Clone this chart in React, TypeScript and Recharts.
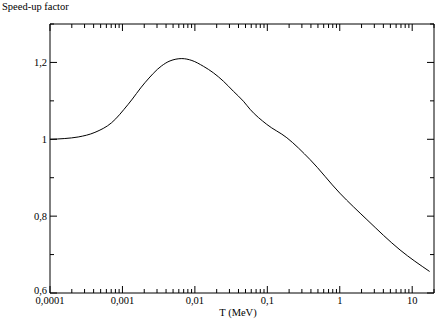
import React from 'react';
import { LineChart, Line, XAxis, YAxis, Label } from 'recharts';

// temperature (MeV) and speed-up factor
const temperatures = [
  0.0001, 0.00016, 0.000245, 0.000417, 0.000708, 0.0012, 0.00204, 0.00347, 0.00454, 0.0066,
  0.0091, 0.0131, 0.018, 0.0248, 0.034, 0.0468, 0.0578, 0.098, 0.186, 0.39, 1, 2.37, 6.8, 17.4,
];
const speedUp = [
  1.0, 1.002, 1.006, 1.018, 1.043, 1.091, 1.147, 1.191, 1.204, 1.21,
  1.205, 1.19, 1.173, 1.151, 1.125, 1.099, 1.078, 1.039, 1.004, 0.947, 0.86, 0.791, 0.712, 0.656,
];

const xDecades = [0.0001, 0.001, 0.01, 0.1, 1, 10];
const xMinorSteps = [2, 3, 4, 5, 6, 7, 8, 9];
const yTicks = [0.6, 0.7, 0.8, 0.9, 1, 1.1, 1.2, 1.3];
const yMajor = [0.6, 0.8, 1, 1.2];

const data = temperatures.map((t, i) => ({ t, f: speedUp[i] }));

const xTicks: number[] = [];
xDecades.forEach(d => {
  xTicks.push(d);
  xMinorSteps.forEach(m => {
    if (m * d <= 20) xTicks.push(m * d);
  });
});

const font = 'Liberation Serif, DejaVu Serif, Liberation Sans, Arial, sans-serif';
const fmt = (v: number) => String(v).replace('.', ',');
const isMajorX = (v: number) => xDecades.some(d => Math.abs(v - d) < d * 1e-6);
const isMajorY = (v: number) => yMajor.some(d => Math.abs(v - d) < 1e-6);

const BottomTick = (props: any) => {
  const { x, y, payload } = props;
  const major = isMajorX(payload.value);
  return (
    <g>
      <line x1={x} x2={x} y1={y} y2={y - (major ? 7 : 4)} stroke="#000" />
      {major && (
        <text x={x} y={y + 4} dy="0.71em" textAnchor="middle" fontFamily={font} fontSize={10.5} fill="#000">
          {fmt(payload.value)}
        </text>
      )}
    </g>
  );
};

const TopTick = (props: any) => {
  const { x, y, payload } = props;
  const major = isMajorX(payload.value);
  return <line x1={x} x2={x} y1={y} y2={y + (major ? 7 : 4)} stroke="#000" />;
};

const LeftTick = (props: any) => {
  const { x, y, payload } = props;
  const v = payload.value;
  const major = isMajorY(v);
  // the lowest label sits a little higher so it clears the first x label
  const shift = v === yMajor[0] ? -3 : 0;
  return (
    <g>
      <line x1={x} x2={x + (major ? 7 : 4)} y1={y} y2={y} stroke="#000" />
      {major && (
        <text x={x - 3} y={y + shift} dy="0.35em" textAnchor="end" fontFamily={font} fontSize={10.5} fill="#000">
          {fmt(v)}
        </text>
      )}
    </g>
  );
};

const RightTick = (props: any) => {
  const { x, y, payload } = props;
  const major = isMajorY(payload.value);
  return <line x1={x} x2={x - (major ? 7 : 4)} y1={y} y2={y} stroke="#000" />;
};

export default function App() {
  return (
    <div style={{ position: 'absolute', left: 0, top: 0, width: 436, height: 320, background: '#fff' }}>
      <div
        style={{
          position: 'absolute',
          left: 2,
          top: 0,
          fontFamily: font,
          fontSize: 10.5,
          color: '#000',
          lineHeight: '13px',
        }}
      >
        Speed-up factor
      </div>
      <LineChart width={436} height={320} data={data} margin={{ top: 0, right: 0, bottom: 0, left: 0 }}>
        <XAxis
          dataKey="t"
          type="number"
          scale="log"
          domain={[0.0001, 20]}
          ticks={xTicks}
          allowDataOverflow
          height={27}
          tickSize={0}
          tickMargin={0}
          tickLine={false}
          axisLine={{ stroke: '#000' }}
          tick={<BottomTick />}
          interval={0}
        >
          <Label value="T (MeV)" position="insideBottom" offset={4} dx={-4} fontFamily={font} fontSize={10.5} fill="#000" />
        </XAxis>
        <XAxis
          xAxisId="top"
          orientation="top"
          dataKey="t"
          type="number"
          scale="log"
          domain={[0.0001, 20]}
          ticks={xTicks}
          allowDataOverflow
          height={24}
          tickSize={0}
          tickMargin={0}
          tickLine={false}
          axisLine={{ stroke: '#000' }}
          tick={<TopTick />}
          interval={0}
        />
        <YAxis
          type="number"
          domain={[0.6, 1.3]}
          ticks={yTicks}
          allowDataOverflow
          width={50}
          tickSize={0}
          tickMargin={0}
          tickLine={false}
          axisLine={{ stroke: '#000' }}
          tick={<LeftTick />}
          interval={0}
        />
        <YAxis
          yAxisId="right"
          orientation="right"
          type="number"
          domain={[0.6, 1.3]}
          ticks={yTicks}
          allowDataOverflow
          width={2}
          tickSize={0}
          tickMargin={0}
          tickLine={false}
          axisLine={{ stroke: '#000' }}
          tick={<RightTick />}
          interval={0}
        />
        <Line
          dataKey="f"
          type="monotone"
          stroke="#000"
          strokeWidth={1}
          dot={false}
          isAnimationActive={false}
        />
      </LineChart>
    </div>
  );
}
